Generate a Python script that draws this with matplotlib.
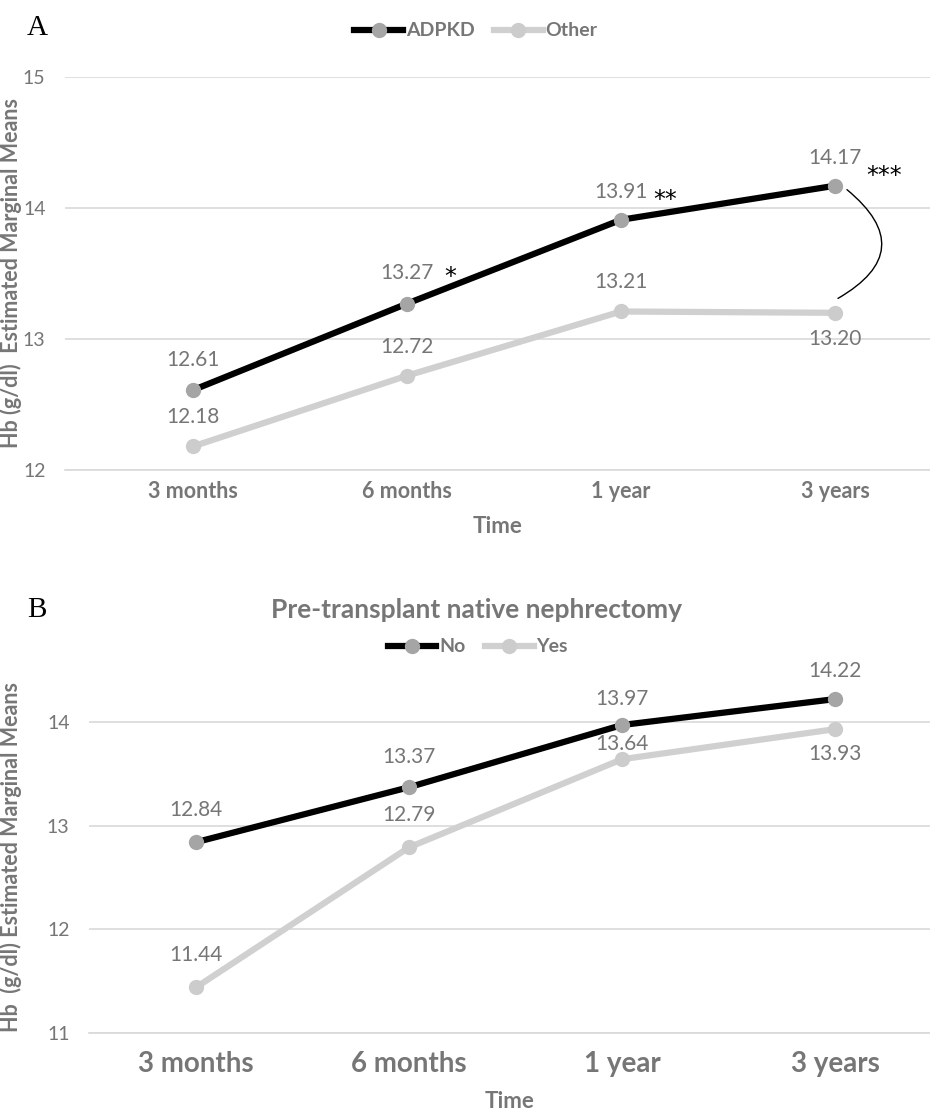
import matplotlib
matplotlib.use("Agg")
import matplotlib.pyplot as plt
from matplotlib.lines import Line2D
from matplotlib.patches import FancyArrowPatch

categories = ["3 months", "6 months", "1 year", "3 years"]
adpkd = [12.61, 13.27, 13.91, 14.17]
other = [12.18, 12.72, 13.21, 13.20]
neph_no = [12.84, 13.37, 13.97, 14.22]
neph_yes = [11.44, 12.79, 13.64, 13.93]
sig_labels = ["", "*", "**", "***"]

W, H = 930, 1115
FONT = "Lato"
TXT2 = "#767676"
BLACK = "#000000"
DARKM = "#a5a5a5"
LIGHT = "#d0d0d0"
LIGHTM = "#cccccc"
GRID = "#d9d9d9"

fig = plt.figure(figsize=(W / 100, H / 100), dpi=100)


def px_axes(left, top, right, bottom):
    return fig.add_axes([left / W, 1 - bottom / H, (right - left) / W, (bottom - top) / H])


def style(ax, yticks, tick_fs, xpad):
    ax.set_yticks(yticks)
    ax.yaxis.grid(True, color=GRID, lw=1.2)
    ax.set_axisbelow(True)
    for s in ["top", "right", "left"]:
        ax.spines[s].set_visible(False)
    ax.spines["bottom"].set_color(GRID)
    ax.spines["bottom"].set_linewidth(1.2)
    ax.tick_params(axis="both", length=0)
    ax.tick_params(axis="y", labelsize=14, labelcolor=TXT2, pad=14)
    ax.tick_params(axis="x", pad=xpad)
    for lab in ax.get_yticklabels():
        lab.set_fontfamily(FONT)
    ax.set_xticks(range(len(categories)))
    ax.set_xticklabels(categories, fontsize=tick_fs, color=TXT2, fontweight="bold",
                       fontfamily=FONT)


def draw_series(ax, vals, lc, mc, lw, offsets):
    x = list(range(len(vals)))
    ax.plot(x, vals, color=lc, lw=lw, marker="o", markersize=10,
            markerfacecolor=mc, markeredgecolor=mc, solid_capstyle="round", zorder=3)
    for xi, v, off in zip(x, vals, offsets):
        ax.annotate(f"{v:.2f}", (xi, v), xytext=(0, off), textcoords="offset points",
                    ha="center", va="center", fontsize=15, color=TXT2, fontfamily=FONT,
                    zorder=4)


def legend(labels, center_px, y_px):
    handles = [Line2D([0], [0], color=BLACK, lw=4.5, marker="o", markersize=10,
                      markerfacecolor=DARKM, markeredgecolor=DARKM),
               Line2D([0], [0], color=LIGHT, lw=4.5, marker="o", markersize=10,
                      markerfacecolor=LIGHTM, markeredgecolor=LIGHTM)]
    fig.legend(handles, labels, loc="center", bbox_to_anchor=(center_px / W, 1 - y_px / H),
               ncol=2, frameon=False, handlelength=2.5, columnspacing=1.0,
               handletextpad=0.15, prop={"family": FONT, "size": 14, "weight": "bold"},
               labelcolor=TXT2)


# ---------------- Panel A ----------------
axA = px_axes(65, 77, 930, 470)
axA.set_ylim(12, 15)
axA.set_xlim(-(193 - 65) / 214, (930 - 193) / 214)
style(axA, [12, 13, 14, 15], 15.5, 8)
draw_series(axA, adpkd, BLACK, DARKM, 4.5, [22, 22, 20, 20])
draw_series(axA, other, LIGHT, LIGHTM, 4.5, [21, 21, 21, -19])
axA.set_xlabel("Time", fontsize=16, color=TXT2, fontweight="bold", fontfamily=FONT, labelpad=10)
axA.set_ylabel("Hb (g/dl)  Estimated Marginal Means", fontsize=15.5, color=TXT2,
               fontweight="bold", fontfamily=FONT)
axA.yaxis.set_label_coords(-(65 - 22) / 865, 0.5)
star_offsets = [(0, 0), (31, 19), (32, 14), (35, 7)]
for xi, (v, s) in enumerate(zip(adpkd, sig_labels)):
    if s:
        axA.annotate(s, (xi, v), xytext=star_offsets[xi],
                     textcoords="offset points", ha="center", va="center",
                     fontsize=17, color="black", fontfamily="DejaVu Sans")
arc = FancyArrowPatch((3.056, 14.14), (3.014, 13.31), arrowstyle="-",
                      connectionstyle="arc3,rad=-0.72", color="black", lw=1.0,
                      mutation_scale=1, shrinkA=0, shrinkB=0)
axA.add_patch(arc)
legend(["ADPKD", "Other"], 476, 31)
fig.text(37 / W, 1 - 28 / H, "A", fontsize=21, fontfamily="Liberation Serif",
         ha="center", va="center", color="black")

# ---------------- Panel B ----------------
axB = px_axes(89, 680, 930, 1033)
axB.set_ylim(11, 11 + (1033 - 680) / 103.7)
axB.set_xlim(-(196 - 89) / 213, (930 - 196) / 213)
style(axB, [11, 12, 13, 14], 20, 13)
draw_series(axB, neph_no, BLACK, DARKM, 4.5, [23, 22, 19, 20])
draw_series(axB, neph_yes, LIGHT, LIGHTM, 4.5, [23, 23, 11, -18])
axB.set_xlabel("Time", fontsize=16, color=TXT2, fontweight="bold", fontfamily=FONT, labelpad=10)
axB.set_ylabel("Hb  (g/dl) Estimated Marginal Means", fontsize=15.5, color=TXT2,
               fontweight="bold", fontfamily=FONT)
axB.yaxis.set_label_coords(-(89 - 22) / 841, 0.5)
legend(["No", "Yes"], 478, 647)
fig.text(476 / W, 1 - 610 / H, "Pre-transplant native nephrectomy", fontsize=19,
         fontweight="bold", fontfamily=FONT, color=TXT2, ha="center", va="center")
fig.text(37 / W, 1 - 610 / H, "B", fontsize=21, fontfamily="Liberation Serif",
         ha="center", va="center", color="black")

fig.savefig("out.png", dpi=100, facecolor="white")
